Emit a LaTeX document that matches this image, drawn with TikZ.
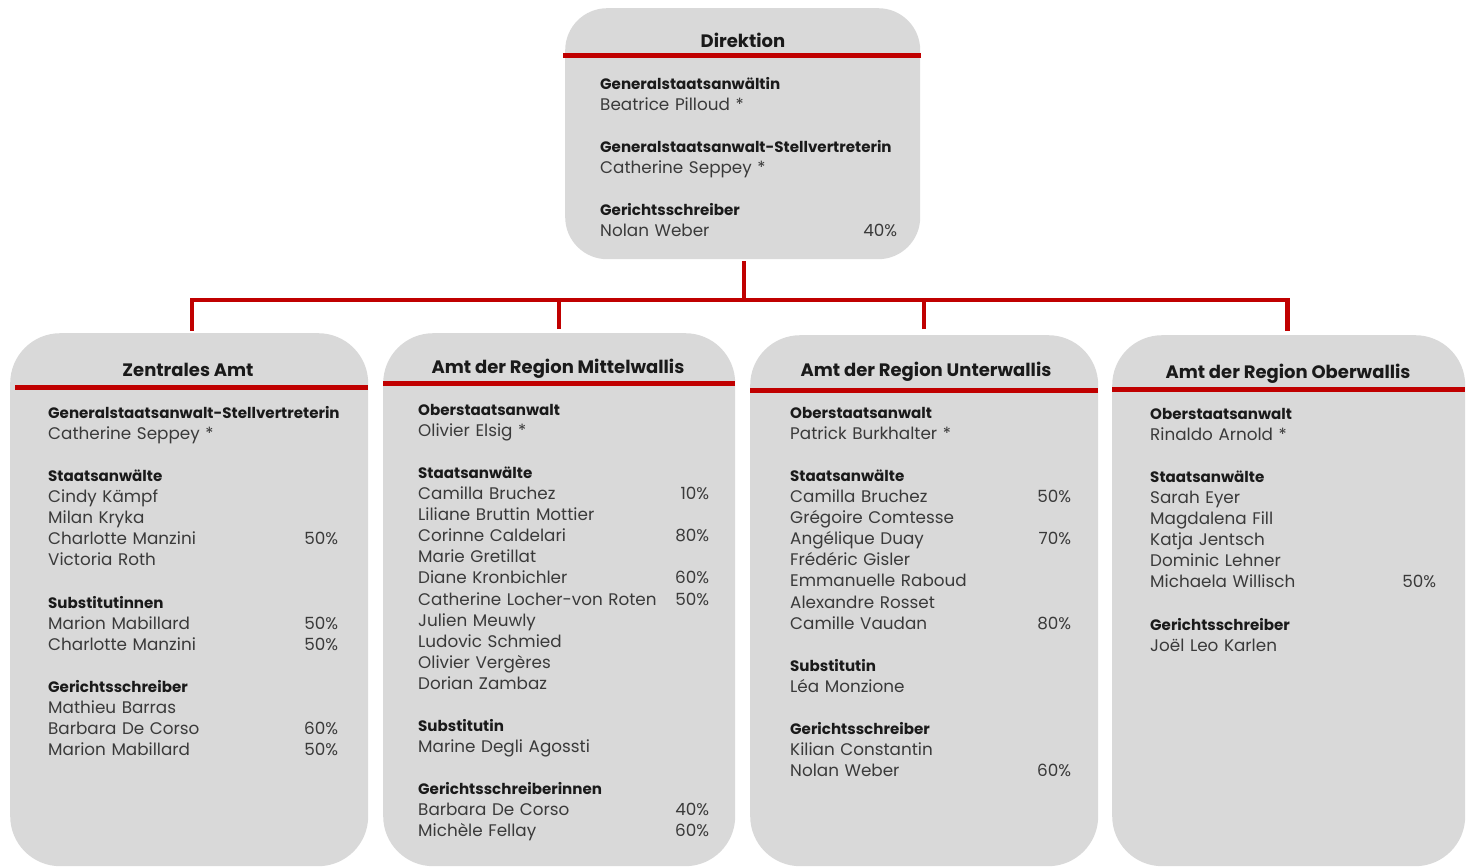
\documentclass[tikz,border=0pt]{standalone}
\usepackage{fontspec}
\setmainfont{Poppins}
\usetikzlibrary{calc}
\definecolor{boxgray}{HTML}{D9D9D9}
\definecolor{hdrred}{HTML}{C00000}
\definecolor{txtdark}{HTML}{1A1A1A}
\definecolor{txtname}{HTML}{3A3A3A}
\newcommand{\hd}[1]{\mbox{\fontsize{15.1}{21.06}\selectfont\bfseries\color{txtdark}#1}}
\newcommand{\pc}[1]{\hfill#1}
\tikzset{
  orgbox/.style={fill=boxgray, draw=none, rounded corners=50pt, inner sep=0pt, anchor=north west},
  hdrline/.style={draw=hdrred, line width=5pt},
  conn/.style={draw=hdrred, line width=4.5pt},
  boxtitle/.style={anchor=base, inner sep=0pt, font=\fontsize{18}{21}\selectfont\bfseries, text=txtdark},
  content/.style={anchor=base west, inner sep=0pt, align=left, font=\fontsize{16.8}{21.06}\selectfont, text=txtname}
}
\begin{document}
\begin{tikzpicture}[x=1pt,y=-1pt]
\useasboundingbox (0,0) rectangle (1472,867);
% boxes
\node[orgbox, rounded corners=42pt, minimum width=355pt, minimum height=251pt] (dir) at (565,8) {};
\node[orgbox, minimum width=358pt, minimum height=533pt] (zen) at (10,333) {};
\node[orgbox, minimum width=352pt, minimum height=533pt] (mit) at (383,333) {};
\node[orgbox, minimum width=348pt, minimum height=531pt] (unt) at (750,335) {};
\node[orgbox, minimum width=353pt, minimum height=531pt] (obe) at (1112,335) {};
% header lines
\draw[hdrline] ([yshift=-48pt,xshift=-2pt]dir.north west) -- ([yshift=-48pt,xshift=1pt]dir.north east);
\draw[hdrline] ([yshift=-54pt,xshift=5pt]zen.north west) -- ([yshift=-54pt]zen.north east);
\draw[hdrline] ([yshift=-50pt]mit.north west) -- ([yshift=-50pt]mit.north east);
\draw[hdrline] ([yshift=-55pt]unt.north west) -- ([yshift=-55pt]unt.north east);
\draw[hdrline] ([yshift=-54pt]obe.north west) -- ([yshift=-54pt]obe.north east);
% connectors
\coordinate (bus) at (744,300);
\draw[conn] ([yshift=-2pt]dir.south -| bus) -- (bus);
\draw[conn, line cap=rect] ([xshift=3pt,yshift=4pt]zen.north) -- ([xshift=3pt]zen.north |- bus) -- ([xshift=-1pt]obe.north |- bus) -- ([xshift=-1pt,yshift=6pt]obe.north);
\draw[conn] ([yshift=4pt]mit.north) -- (mit.north |- bus);
\draw[conn] ([yshift=6pt]unt.north) -- (unt.north |- bus);
% titles
\node[boxtitle] (dirT) at (743,47.5) {Direktion};
\node[boxtitle] (zenT) at (188,376.5) {Zentrales Amt};
\node[boxtitle] (mitT) at (558,373.5) {Amt der Region Mittelwallis};
\node[boxtitle] (untT) at (926,376.5) {Amt der Region Unterwallis};
\node[boxtitle] (obeT) at (1288,378.5) {Amt der Region Oberwallis};
% contents
\node[content, text width=297pt] (dirC) at (600,89.5) {%
\hd{Generalstaatsanwältin}\\
Beatrice Pilloud *\\[21.06pt]
\hd{Generalstaatsanwalt-Stellvertreterin}\\
Catherine Seppey *\\[21.06pt]
\hd{Gerichtsschreiber}\\
Nolan Weber\pc{40\%}};
\node[content, text width=290pt] (zenC) at (48,418.5) {%
\hd{Generalstaatsanwalt-Stellvertreterin}\\
Catherine Seppey *\\[21.06pt]
\hd{Staatsanwälte}\\
Cindy Kämpf\\
Milan Kryka\\
Charlotte Manzini\pc{50\%}\\
Victoria Roth\\[21.06pt]
\hd{Substitutinnen}\\
Marion Mabillard\pc{50\%}\\
Charlotte Manzini\pc{50\%}\\[21.06pt]
\hd{Gerichtsschreiber}\\
Mathieu Barras\\
Barbara De Corso\pc{60\%}\\
Marion Mabillard\pc{50\%}};
\node[content, text width=291pt] (mitC) at (418,415.5) {%
\hd{Oberstaatsanwalt}\\
Olivier Elsig *\\[21.06pt]
\hd{Staatsanwälte}\\
Camilla Bruchez\pc{10\%}\\
Liliane Bruttin Mottier\\
Corinne Caldelari\pc{80\%}\\
Marie Gretillat\\
Diane Kronbichler\pc{60\%}\\
Catherine Locher-von Roten\pc{50\%}\\
Julien Meuwly\\
Ludovic Schmied\\
Olivier Vergères\\
Dorian Zambaz\\[21.06pt]
\hd{Substitutin}\\
Marine Degli Agossti\\[21.06pt]
\hd{Gerichtsschreiberinnen}\\
Barbara De Corso\pc{40\%}\\
Michèle Fellay\pc{60\%}};
\node[content, text width=281pt] (untC) at (790,418.5) {%
\hd{Oberstaatsanwalt}\\
Patrick Burkhalter *\\[21.06pt]
\hd{Staatsanwälte}\\
Camilla Bruchez\pc{50\%}\\
Grégoire Comtesse\\
Angélique Duay\pc{70\%}\\
Frédéric Gisler\\
Emmanuelle Raboud\\
Alexandre Rosset\\
Camille Vaudan\pc{80\%}\\[21.06pt]
\hd{Substitutin}\\
Léa Monzione\\[21.06pt]
\hd{Gerichtsschreiber}\\
Kilian Constantin\\
Nolan Weber\pc{60\%}};
\node[content, text width=286pt] (obeC) at (1150,419.5) {%
\hd{Oberstaatsanwalt}\\
Rinaldo Arnold *\\[21.06pt]
\hd{Staatsanwälte}\\
Sarah Eyer\\
Magdalena Fill\\
Katja Jentsch\\
Dominic Lehner\\
Michaela Willisch\pc{50\%}\\[21.06pt]
\hd{Gerichtsschreiber}\\
Joël Leo Karlen};
\end{tikzpicture}
\end{document}
